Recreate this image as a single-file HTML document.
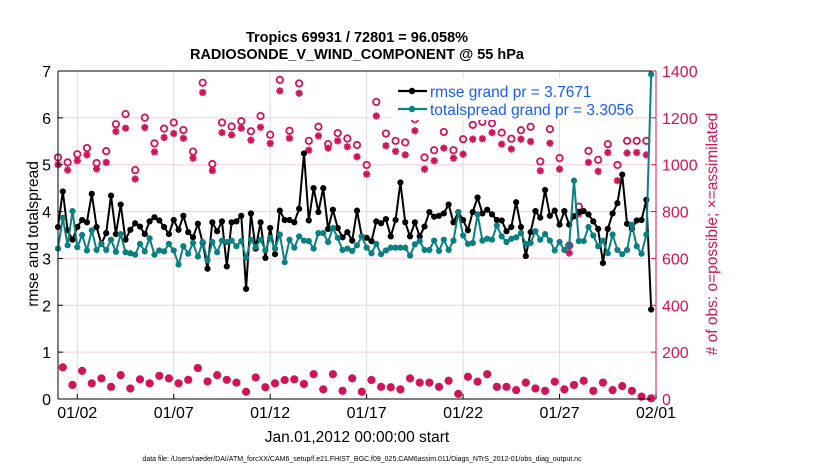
<!DOCTYPE html>
<html><head><meta charset="utf-8"><style>
body{margin:0;background:#fff;}
svg{display:block;font-family:"Liberation Sans",Arial,sans-serif;}
</style></head><body>
<svg id="chart" width="830" height="470" viewBox="0 0 830 470" xmlns="http://www.w3.org/2000/svg">
<text x="357" y="42" text-anchor="middle" font-size="14.5" font-weight="bold">Tropics 69931 / 72801 = 96.058%</text>
<text x="357" y="59" text-anchor="middle" font-size="14.5" font-weight="bold">RADIOSONDE_V_WIND_COMPONENT @ 55 hPa</text>
<g id="grid"></g>
<g id="marks"></g>
<g id="axes"></g>
<g id="legend">
<rect x="392" y="78" width="230" height="42" fill="#fff"/>
<line x1="398" y1="91" x2="427" y2="91" stroke="#000" stroke-width="2.2"/><circle cx="412" cy="91" r="3.2" fill="#000"/>
<text x="430" y="97" font-size="15.5" fill="#1a5cff">rmse grand pr = 3.7671</text>
<line x1="398" y1="109" x2="427" y2="109" stroke="#0b8080" stroke-width="2.2"/><circle cx="412" cy="109" r="3.2" fill="#0b8080"/>
<text x="430" y="115" font-size="15.5" fill="#1a5cff">totalspread grand pr = 3.3056</text>
</g>
<text transform="translate(38,234) rotate(-90)" text-anchor="middle" font-size="15.5">rmse and totalspread</text>
<text transform="translate(717,234) rotate(-90)" text-anchor="middle" font-size="15.5" fill="#d1145a"># of obs: o=possible; ×=assimilated</text>
<text x="357" y="442" text-anchor="middle" font-size="15.5">Jan.01,2012 00:00:00 start</text>
<text x="362" y="461" text-anchor="middle" font-size="7">data file: /Users/raeder/DAI/ATM_forcXX/CAM6_setup/f.e21.FHIST_BGC.f09_025.CAM6assim.011/Diags_NTrS_2012-01/obs_diag_output.nc</text>
</svg>
<script>
const rmse=[3.67,4.43,3.60,3.40,3.67,3.82,3.77,4.38,3.67,3.31,3.54,4.34,3.52,4.15,3.40,3.61,3.75,3.68,3.52,3.79,3.88,3.81,3.67,3.52,3.82,3.61,3.91,3.56,3.45,3.74,3.33,2.78,3.77,3.58,3.79,2.83,3.77,3.79,3.91,2.35,3.96,3.21,3.77,3.01,3.65,3.09,4.02,3.82,3.82,3.77,4.06,5.24,3.81,4.50,3.99,4.50,3.63,4.04,3.65,3.45,3.56,3.38,4.02,3.47,3.44,3.37,3.79,3.75,3.84,3.47,3.82,4.62,3.77,3.47,3.77,3.47,3.68,3.99,3.89,3.91,3.96,4.15,3.77,3.99,3.82,3.60,3.99,4.30,3.96,4.04,3.94,3.82,3.81,3.58,3.67,4.20,3.67,3.05,3.56,4.01,3.87,4.46,3.91,4.02,3.72,4.01,3.72,3.90,3.99,4.01,3.94,3.79,3.63,2.90,3.63,3.96,4.18,4.79,3.74,3.63,3.81,3.82,4.25,1.91];
const spread=[3.21,3.87,3.28,4.01,3.24,3.50,3.17,3.60,3.18,3.31,3.18,3.40,3.14,3.52,3.13,3.11,3.08,3.31,3.15,3.43,3.08,3.17,3.15,3.31,3.17,2.87,3.26,3.10,3.33,3.04,3.35,2.96,3.35,3.13,3.38,3.35,3.38,3.26,3.37,3.01,3.40,3.24,3.40,3.17,3.44,3.21,3.51,2.92,3.40,3.23,3.47,3.38,3.37,3.21,3.54,3.54,3.35,3.65,3.44,3.18,3.21,3.16,3.28,3.47,3.23,3.11,3.31,3.09,3.17,3.23,3.23,3.23,3.23,3.06,3.30,3.37,3.18,3.18,3.38,3.16,3.40,3.18,3.38,3.99,3.49,3.31,3.33,3.94,3.38,3.42,3.40,3.70,3.47,3.35,3.42,3.45,3.54,3.31,3.33,3.58,3.40,3.52,3.38,3.17,3.35,3.18,3.28,4.66,3.37,3.37,3.67,3.49,3.26,3.38,3.11,3.51,3.18,3.09,3.18,3.72,3.26,3.10,3.51,6.93];
const possible=[1031,135,1010,60,1045,120,1071,67,1007,88,1058,52,1173,102,1216,45,977,84,1201,67,1091,99,1154,88,1180,67,1148,82,1056,132,1350,75,1003,102,1180,82,1163,70,1186,31,1143,92,1208,50,1128,67,1362,81,1145,84,1347,64,1102,106,1162,41,1088,106,1135,35,1112,88,1084,31,999,81,1268,52,1133,50,1102,41,1095,88,1194,70,1031,70,1062,52,1140,78,1062,22,1109,95,1170,74,1183,106,1177,52,1137,52,1111,38,1147,70,1162,45,1014,35,1152,74,1028,41,655,60,821,78,1059,35,1021,70,1088,38,999,55,1102,35,1102,10,1102,3];
const assimilated=[1000,135,977,60,1017,120,1042,67,982,88,1010,52,1142,102,1156,45,939,84,1159,67,1055,99,1116,88,1133,67,1113,82,1028,132,1308,75,975,102,1137,82,1127,70,1156,31,1105,92,1160,50,1091,67,1315,81,1113,84,1305,64,1062,106,1123,41,1071,106,1102,35,1077,88,1034,31,960,81,1208,52,1081,50,1057,41,1042,88,1145,70,981,70,1017,52,1071,78,1028,22,1045,95,1109,74,1111,106,1137,52,1088,52,1067,38,1109,70,1099,45,974,35,1092,74,981,41,623,60,790,78,1010,35,972,70,1052,38,932,55,1050,35,1052,10,1042,3];
const leftTicks=[0,1,2,3,4,5,6,7];
const rightTicks=[0,200,400,600,800,1000,1200,1400];
const xTickLabels=["01/02","01/07","01/12","01/17","01/22","01/27","02/01"];
const xTickDays=[1,6,11,16,21,26,31];

const NS="http://www.w3.org/2000/svg";
const L=58,R=656,T=71,B=399,DAYS=31,STEP=0.25;
const MAG="#d1145a",TEAL="#0b8080";
function xs(day){return L+day/DAYS*(R-L);}
function yl(v){return B-v/7*(B-T);}
function yr(c){return B-c/1400*(B-T);}
function mk(tag,attrs,parent){const e=document.createElementNS(NS,tag);for(const k in attrs)e.setAttribute(k,attrs[k]);parent.appendChild(e);return e;}
const grid=document.getElementById('grid'),marks=document.getElementById('marks'),axes=document.getElementById('axes');

rightTicks.forEach(c=>{if(c>0&&c<1400){const g=mk('line',{x1:L,x2:R,y1:yr(c),y2:yr(c),stroke:'#f5cfdc','stroke-width':1},grid);

}});
xTickDays.forEach(d=>{if(d<DAYS){const g=mk('line',{x1:xs(d),x2:xs(d),y1:T,y2:B,stroke:'#dcdcdc','stroke-width':1},grid);

}});

function star(cx,cy,par){const s=3.6;const g=mk('g',{stroke:MAG,'stroke-width':1.9},par);


[[0,s],[s,0],[s*0.72,s*0.72],[s*0.72,-s*0.72]].forEach(([dx,dy])=>mk('line',{x1:cx-dx,y1:cy-dy,x2:cx+dx,y2:cy+dy},g));}
possible.forEach((c,i)=>{const el=mk('circle',{cx:xs(i*STEP),cy:yr(c),r:3.2,fill:'none',stroke:MAG,'stroke-width':1.8},marks);

});
assimilated.forEach((c,i)=>star(xs(i*STEP),yr(c),marks));

function series(arr,color,name){
const pts=arr.map((v,i)=>xs(i*STEP).toFixed(1)+','+yl(v).toFixed(1)).join(' ');
const pl=mk('polyline',{points:pts,fill:'none',stroke:color,'stroke-width':2,'stroke-linejoin':'round'},marks);


arr.forEach((v,i)=>{const m=mk('circle',{cx:xs(i*STEP),cy:yl(v),r:3.1,fill:color},marks);

});}
series(rmse,'#000','rmse');
series(spread,TEAL,'totalspread');

const fr=[[L,T,R,T,'#000'],[L,T,L,B,'#000'],[L,B,R,B,'#000'],[R,T,R,B,MAG]];
fr.forEach(a=>{const e=mk('line',{x1:a[0],y1:a[1],x2:a[2],y2:a[3],stroke:a[4],'stroke-width':1},axes);

});
leftTicks.forEach(v=>{const y=yl(v);
mk('line',{x1:L,x2:L+5,y1:y,y2:y,stroke:'#000'},axes);
const t=mk('text',{x:L-7,y:y+6,'text-anchor':'end','font-size':16},axes);t.textContent=v;

});
rightTicks.forEach(c=>{const y=yr(c);
mk('line',{x1:R-5,x2:R,y1:y,y2:y,stroke:MAG},axes);
const t=mk('text',{x:R+6,y:y+6,'font-size':16,fill:MAG},axes);t.textContent=c;

});
xTickLabels.forEach((lab,k)=>{const x=xs(xTickDays[k]);
mk('line',{x1:x,x2:x,y1:B,y2:B-5,stroke:'#000'},axes);
const t=mk('text',{x:x,y:418,'text-anchor':'middle','font-size':16},axes);t.textContent=lab;

});
</script>
</body></html>
